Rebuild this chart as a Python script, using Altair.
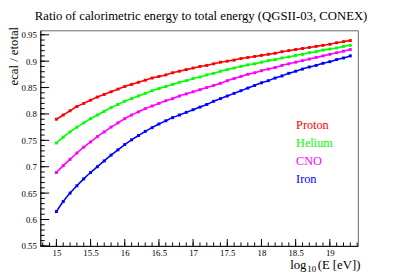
import altair as alt
import pandas as pd

energies = [15.0, 15.1, 15.2, 15.3, 15.4, 15.5, 15.6, 15.7, 15.8, 15.9,
            16.0, 16.1, 16.2, 16.3, 16.4, 16.5, 16.6, 16.7, 16.8, 16.9,
            17.0, 17.1, 17.2, 17.3, 17.4, 17.5, 17.6, 17.7, 17.8, 17.9,
            18.0, 18.1, 18.2, 18.3, 18.4, 18.5, 18.6, 18.7, 18.8, 18.9,
            19.0, 19.1, 19.2, 19.3]

proton = [0.790, 0.798, 0.806, 0.814, 0.820, 0.826, 0.832, 0.837, 0.842, 0.847,
          0.852, 0.856, 0.860, 0.864, 0.868, 0.871, 0.874, 0.878, 0.881, 0.884,
          0.887, 0.890, 0.892, 0.895, 0.898, 0.900, 0.902, 0.905, 0.907, 0.909,
          0.911, 0.913, 0.915, 0.918, 0.920, 0.922, 0.924, 0.926, 0.928, 0.930,
          0.932, 0.935, 0.937, 0.939]

helium = [0.745, 0.756, 0.766, 0.775, 0.783, 0.791, 0.798, 0.805, 0.812, 0.818,
          0.824, 0.829, 0.834, 0.839, 0.844, 0.848, 0.852, 0.856, 0.860, 0.863,
          0.867, 0.870, 0.874, 0.877, 0.881, 0.884, 0.887, 0.890, 0.893, 0.895,
          0.898, 0.901, 0.903, 0.906, 0.908, 0.911, 0.913, 0.916, 0.918, 0.921,
          0.923, 0.925, 0.928, 0.930]

cno = [0.689, 0.702, 0.714, 0.726, 0.737, 0.747, 0.757, 0.766, 0.775, 0.783,
       0.791, 0.798, 0.804, 0.810, 0.815, 0.820, 0.825, 0.829, 0.834, 0.838,
       0.842, 0.846, 0.850, 0.854, 0.858, 0.863, 0.867, 0.871, 0.875, 0.878,
       0.882, 0.885, 0.888, 0.892, 0.895, 0.898, 0.901, 0.904, 0.907, 0.910,
       0.913, 0.916, 0.919, 0.922]

iron = [0.615, 0.634, 0.650, 0.664, 0.677, 0.689, 0.700, 0.711, 0.722, 0.732,
        0.742, 0.751, 0.759, 0.767, 0.774, 0.781, 0.787, 0.793, 0.798, 0.803,
        0.808, 0.813, 0.818, 0.824, 0.829, 0.834, 0.839, 0.844, 0.849, 0.854,
        0.859, 0.863, 0.868, 0.872, 0.877, 0.881, 0.885, 0.889, 0.892, 0.896,
        0.899, 0.903, 0.906, 0.910]

series_names = ["Proton", "Helium", "CNO", "Iron"]
series_colors = ["#ff0000", "#00ff00", "#ff00ff", "#0000ff"]
series_values = [proton, helium, cno, iron]

x_major = [15, 15.5, 16, 16.5, 17, 17.5, 18, 18.5, 19]
y_major = [0.55, 0.6, 0.65, 0.7, 0.75, 0.8, 0.85, 0.9, 0.95]
x_minor = [round(14.8 + 0.1 * i, 2) for i in range(47)]
y_minor = [round(0.55 + 0.01 * i, 2) for i in range(41)]

title_text = "Ratio of calorimetric energy to total energy (QGSII-03, CONEX)"
y_title = "ecal / etotal"

W, H = 324, 220
FONT = "Liberation Serif"

rows = []
for name, vals in zip(series_names, series_values):
    for e, v in zip(energies, vals):
        rows.append({"series": name, "logE": e, "ratio": v})
df = pd.DataFrame(rows)

xs = alt.Scale(domain=[14.765, 19.41], nice=False, zero=False)
ys = alt.Scale(domain=[0.55, 0.9585], nice=False, zero=False)
cs = alt.Scale(domain=series_names, range=series_colors)

x_axis = alt.Axis(values=x_major, format="~g", ticks=False, grid=False,
                  labelFont=FONT, labelFontSize=9, labelPadding=3,
                  labelColor="black", domainColor="black", title=None)
y_axis = alt.Axis(values=y_major, format="~g", ticks=False, grid=False,
                  labelFont=FONT, labelFontSize=9, labelPadding=4,
                  labelColor="black", domainColor="black",
                  title=y_title, titleFont=FONT, titleFontSize=13,
                  titleFontWeight="normal", titleColor="black",
                  titleAngle=270, titleAlign="right", titleBaseline="alphabetic",
                  titleX=-23, titleY=-4)

base = alt.Chart(df).encode(
    x=alt.X("logE:Q", scale=xs, axis=x_axis),
    y=alt.Y("ratio:Q", scale=ys, axis=y_axis),
    color=alt.Color("series:N", scale=cs, legend=None),
    detail="series:N",
)
lines = base.mark_line(strokeWidth=1.6, interpolate="monotone")
points = base.mark_square(size=9, opacity=1)

xmaj_df = pd.DataFrame({"v": x_major})
xmin_df = pd.DataFrame({"v": x_minor})
ymaj_df = pd.DataFrame({"v": y_major})
ymin_df = pd.DataFrame({"v": y_minor})

xmaj_ticks = alt.Chart(xmaj_df).mark_rule(color="black", strokeWidth=1).encode(
    x=alt.X("v:Q", scale=xs, axis=x_axis), y=alt.value(H), y2=alt.value(H - 7))
xmin_ticks = alt.Chart(xmin_df).mark_rule(color="black", strokeWidth=1).encode(
    x=alt.X("v:Q", scale=xs, axis=x_axis), y=alt.value(H), y2=alt.value(H - 3.5))
ymaj_ticks = alt.Chart(ymaj_df).mark_rule(color="black", strokeWidth=1).encode(
    y=alt.Y("v:Q", scale=ys, axis=y_axis), x=alt.value(0), x2=alt.value(9))
ymin_ticks = alt.Chart(ymin_df).mark_rule(color="black", strokeWidth=1).encode(
    y=alt.Y("v:Q", scale=ys, axis=y_axis), x=alt.value(0), x2=alt.value(4.5))

legend_y = [100.5, 119.5, 137.5, 155.5]
legend_layers = []
for name, col, ly in zip(series_names, series_colors, legend_y):
    legend_layers.append(
        alt.Chart(pd.DataFrame({"t": [name]})).mark_text(
            font=FONT, fontSize=12.5, align="left", baseline="alphabetic", color=col
        ).encode(text="t:N", x=alt.value(261), y=alt.value(ly))
    )

title_layer = alt.Chart(pd.DataFrame({"t": [title_text]})).mark_text(
    font=FONT, fontSize=13, align="center", baseline="alphabetic", color="black"
).encode(text="t:N", x=alt.value(164), y=alt.value(-10))

xt1 = alt.Chart(pd.DataFrame({"t": ["log"]})).mark_text(
    font=FONT, fontSize=13, align="left", baseline="alphabetic", color="black"
).encode(text="t:N", x=alt.value(255), y=alt.value(243.5))
xt2 = alt.Chart(pd.DataFrame({"t": ["10"]})).mark_text(
    font=FONT, fontSize=9, align="left", baseline="alphabetic", color="black"
).encode(text="t:N", x=alt.value(272.5), y=alt.value(247))
xt3 = alt.Chart(pd.DataFrame({"t": ["(E [eV])"]})).mark_text(
    font=FONT, fontSize=13, align="left", baseline="alphabetic", color="black"
).encode(text="t:N", x=alt.value(283), y=alt.value(243.5))

chart = alt.layer(
    lines, points, xmaj_ticks, xmin_ticks, ymaj_ticks, ymin_ticks,
    *legend_layers, title_layer, xt1, xt2, xt3
).properties(
    width=W, height=H,
    autosize=alt.AutoSizeParams(type="none"),
    padding={"left": 33, "top": 20, "right": 42, "bottom": 29},
    background="white",
).configure_view(stroke="#666", strokeWidth=1)

chart.save("out.html", embed_options={"renderer": "svg", "actions": False})
